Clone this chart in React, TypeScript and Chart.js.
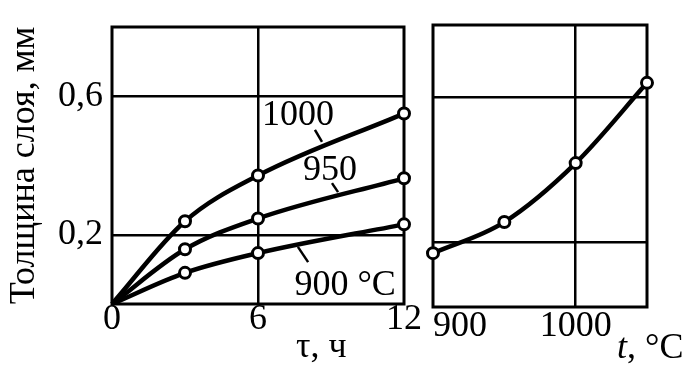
import React, { useEffect, useRef } from 'react';
import { Chart, registerables } from 'chart.js';

Chart.register(...registerables);

// ---- data ----
const hours = [0, 3, 6, 12];
const layer900 = [0, 0.09, 0.147, 0.23];
const layer950 = [0, 0.158, 0.247, 0.363];
const layer1000 = [0, 0.239, 0.371, 0.55];
const temps = [900, 950, 1000, 1050];
const layerVsTemp = [0.169, 0.255, 0.418, 0.64];
const hourTicks = [0, 6, 12];
const tempTicks = [900, 1000, 1050];
const thicknessTicks = [0.2, 0.6];
const yTitle = 'Толщина слоя, мм';
const hoursTitle = 'τ, ч';
const tempTitleVar = 't';
const tempTitleRest = ', °C';
const curveLabels = ['1000', '950', '900 °C'];

const FONT = '"Liberation Serif", "Times New Roman", serif';
const BLACK = '#000';
const CLEAR = 'rgba(0,0,0,0)';

const fmt = (v: number) => String(v).replace('.', ',');
const pts = (xs: number[], ys: number[]) => xs.map((x, i) => ({ x, y: ys[i] }));

const lineStyle = (hideFirst: boolean) => ({
  borderColor: BLACK,
  borderWidth: 4.5,
  cubicInterpolationMode: 'monotone' as const,
  pointRadius: (c: any) => (hideFirst && c.dataIndex === 0 ? 0 : 5.5),
  pointBorderWidth: 3,
  pointBackgroundColor: '#fff',
  pointBorderColor: BLACK,
  clip: false as const,
  fill: false,
});

const framePlugin = {
  id: 'frame',
  beforeDatasetsDraw(chart: any) {
    const { ctx, chartArea: a } = chart;
    ctx.save();
    ctx.strokeStyle = BLACK;
    ctx.lineWidth = 3;
    ctx.strokeRect(a.left, a.top, a.right - a.left, a.bottom - a.top);
    ctx.restore();
  },
};

const leftAnnot = {
  id: 'leftAnnot',
  afterDatasetsDraw(chart: any) {
    const { ctx, chartArea } = chart;
    const px = (v: number) => chart.scales.x.getPixelForValue(v);
    const py = (v: number) => chart.scales.y.getPixelForValue(v);
    const items = [
      { t: curveLabels[0], x: 7.64, y: 0.552, l: [8.34, 0.503, 8.63, 0.468] },
      { t: curveLabels[1], x: 8.96, y: 0.393, l: [9.04, 0.349, 9.29, 0.323] },
      { t: curveLabels[2], x: 9.58, y: 0.061, l: [7.64, 0.165, 8.06, 0.121] },
    ];
    ctx.save();
    ctx.fillStyle = BLACK;
    ctx.strokeStyle = BLACK;
    ctx.lineWidth = 2.5;
    ctx.font = `36px ${FONT}`;
    ctx.textAlign = 'center';
    ctx.textBaseline = 'alphabetic';
    items.forEach((it) => {
      ctx.fillText(it.t, px(it.x), py(it.y) + 12);
      ctx.beginPath();
      ctx.moveTo(px(it.l[0]), py(it.l[1]));
      ctx.lineTo(px(it.l[2]), py(it.l[3]));
      ctx.stroke();
    });
    ctx.textAlign = 'center';
    ctx.fillText(hoursTitle, px(8.6), chartArea.bottom + 53);
    ctx.restore();
  },
};

const rightAnnot = {
  id: 'rightAnnot',
  afterDatasetsDraw(chart: any) {
    const { ctx, chartArea } = chart;
    ctx.save();
    ctx.fillStyle = BLACK;
    ctx.textBaseline = 'alphabetic';
    ctx.textAlign = 'left';
    const x0 = chartArea.right - 30;
    const yb = chartArea.bottom + 51;
    ctx.font = `italic 36px ${FONT}`;
    ctx.fillText(tempTitleVar, x0, yb);
    const w = ctx.measureText(tempTitleVar).width;
    ctx.font = `36px ${FONT}`;
    ctx.fillText(tempTitleRest, x0 + w, yb);
    ctx.restore();
  },
};

const tickFont = { family: FONT, size: 36, lineHeight: 1 };

function makeLeft(canvas: HTMLCanvasElement) {
  return new Chart(canvas, {
    type: 'line',
    data: {
      datasets: [
        { label: curveLabels[2], data: pts(hours, layer900), ...lineStyle(true) },
        { label: curveLabels[1], data: pts(hours, layer950), ...lineStyle(true) },
        { label: curveLabels[0], data: pts(hours, layer1000), ...lineStyle(true) },
      ],
    } as any,
    options: {
      animation: false,
      responsive: false,
      events: [],
      layout: { padding: { left: 0, top: 27, right: 293, bottom: 0 } },
      plugins: { legend: { display: false }, tooltip: { enabled: false } },
      scales: {
        x: {
          type: 'linear',
          min: 0,
          max: 12,
          afterBuildTicks: (s: any) => {
            s.ticks = hourTicks.map((v) => ({ value: v }));
          },
          afterFit: (s: any) => {
            s.height = 74;
          },
          ticks: {
            font: tickFont,
            color: BLACK,
            padding: -2,
            maxRotation: 0,
            autoSkip: false,
            callback: (v: any) => String(v),
          },
          grid: {
            color: (c: any) => (c.tick && c.tick.value === 6 ? BLACK : CLEAR),
            lineWidth: 2.5,
            drawTicks: false,
          },
          border: { display: false },
        },
        y: {
          type: 'linear',
          min: 0,
          max: 0.8,
          afterBuildTicks: (s: any) => {
            s.ticks = thicknessTicks.map((v) => ({ value: v }));
          },
          afterFit: (s: any) => {
            s.width = 112;
          },
          ticks: { font: tickFont, color: BLACK, padding: 9, callback: (v: any) => fmt(v) },
          grid: { color: BLACK, lineWidth: 2.5, drawTicks: false },
          border: { display: false },
          title: {
            display: true,
            text: yTitle,
            color: BLACK,
            font: { family: FONT, size: 36, lineHeight: 1 },
            padding: { top: 7, bottom: 0 },
          },
        },
      },
    } as any,
    plugins: [framePlugin, leftAnnot],
  });
}

function makeRight(canvas: HTMLCanvasElement) {
  return new Chart(canvas, {
    type: 'line',
    data: {
      datasets: [{ label: 't', data: pts(temps, layerVsTemp), ...lineStyle(false) }],
    } as any,
    options: {
      animation: false,
      responsive: false,
      events: [],
      layout: { padding: { left: 433, top: 25, right: 50, bottom: 0 } },
      plugins: { legend: { display: false }, tooltip: { enabled: false } },
      scales: {
        x: {
          type: 'linear',
          min: 900,
          max: 1050,
          afterBuildTicks: (s: any) => {
            s.ticks = tempTicks.map((v) => ({ value: v }));
          },
          afterFit: (s: any) => {
            s.height = 71;
          },
          ticks: {
            font: tickFont,
            color: BLACK,
            padding: 2,
            align: 'inner',
            maxRotation: 0,
            autoSkip: false,
            callback: (v: any) => (v === 1050 ? '' : String(v)),
          },
          grid: {
            color: (c: any) => (c.tick && c.tick.value === 1000 ? BLACK : CLEAR),
            lineWidth: 2.5,
            drawTicks: false,
          },
          border: { display: false },
        },
        y: {
          type: 'linear',
          min: 0.02,
          max: 0.8,
          afterBuildTicks: (s: any) => {
            s.ticks = thicknessTicks.map((v) => ({ value: v }));
          },
          afterFit: (s: any) => {
            s.width = 0;
          },
          ticks: { display: false },
          grid: { color: BLACK, lineWidth: 2.5, drawTicks: false },
          border: { display: false },
        },
      },
    } as any,
    plugins: [framePlugin, rightAnnot],
  });
}

export default function App() {
  const leftRef = useRef<HTMLCanvasElement>(null);
  const rightRef = useRef<HTMLCanvasElement>(null);

  useEffect(() => {
    const l = makeLeft(leftRef.current!);
    const r = makeRight(rightRef.current!);
    return () => {
      l.destroy();
      r.destroy();
    };
  }, []);

  const cs: React.CSSProperties = { position: 'absolute', left: 0, top: 0, width: 697, height: 378 };
  return (
    <div style={{ position: 'fixed', left: 0, top: 0, width: 697, height: 378, background: '#fff' }}>
      <canvas ref={leftRef} width={697} height={378} style={cs} />
      <canvas ref={rightRef} width={697} height={378} style={cs} />
    </div>
  );
}
